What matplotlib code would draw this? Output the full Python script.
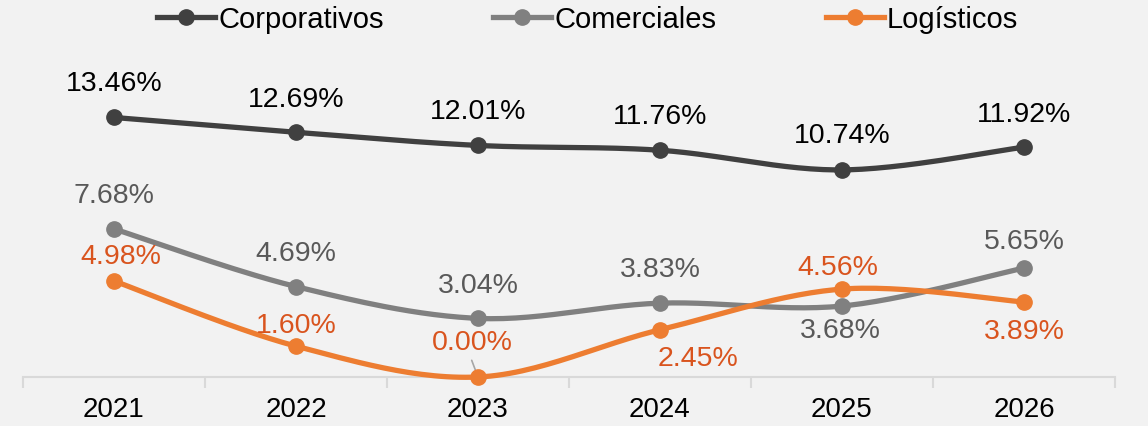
import numpy as np
import matplotlib.pyplot as plt

# datos
anios = ['2021', '2022', '2023', '2024', '2025', '2026']
corporativos = [13.46, 12.69, 12.01, 11.76, 10.74, 11.92]
comerciales = [7.68, 4.69, 3.04, 3.83, 3.68, 5.65]
logisticos = [4.98, 1.60, 0.00, 2.45, 4.56, 3.89]

# desplazamiento de las etiquetas (px): (dx, dy)
pos_corp = [(0, 34), (0, 33), (0, 34), (0, 34), (0, 35), (0, 33)]
pos_come = [(0, 34), (0, 34), (0, 33), (0, 34), (-2, -24), (0, 27)]
pos_logi = [(7, 25), (0, 21), (-6, 35), (38, -28), (-4, 22), (0, -29)]

plt.rcParams['font.family'] = ['Liberation Sans', 'DejaVu Sans']


def suavizar(x, y, n=30):
    # curva tipo Excel (Catmull-Rom con Bezier)
    p = np.column_stack([x, y])
    p = np.vstack([p[0], p, p[-1]])
    xs, ys = [], []
    for i in range(1, len(p) - 2):
        p0, p1, p2, p3 = p[i - 1], p[i], p[i + 1], p[i + 2]
        c1 = p1 + (p2 - p0) / 6
        c2 = p2 - (p3 - p1) / 6
        t = np.linspace(0, 1, n)[:, None]
        b = (1 - t) ** 3 * p1 + 3 * (1 - t) ** 2 * t * c1 + 3 * (1 - t) * t ** 2 * c2 + t ** 3 * p2
        xs.extend(b[:, 0])
        ys.extend(b[:, 1])
    return xs, ys


fig = plt.figure(figsize=(11.48, 4.27), dpi=100, facecolor='#f2f2f2')
ax = fig.add_axes([23 / 1148, 49 / 427, 1092 / 1148, 338 / 427])
ax.set_facecolor('#f2f2f2')

x = np.arange(len(anios))
series = [
    ('Corporativos', corporativos, '#404040', '#000000', pos_corp),
    ('Comerciales', comerciales, '#808080', '#595959', pos_come),
    ('Logísticos', logisticos, '#ED7D31', '#D9541E', pos_logi),
]
for nombre, vals, color, ctxt, pos in series:
    xs, ys = suavizar(x, vals)
    ax.plot(xs, ys, color=color, lw=3.8, clip_on=False, zorder=3, solid_capstyle='round')
    ax.plot(x, vals, 'o', color=color, ms=11, clip_on=False, zorder=4)
    ax.plot([], [], '-o', color=color, lw=3.8, ms=11, label=nombre)
    for xi, v, (dx, dy) in zip(x, vals, pos):
        ax.annotate(f'{v:.2f}%', (xi, v), xytext=(dx * 0.72, dy * 0.72), textcoords='offset points',
                    ha='center', va='center', fontsize=20.5, color=ctxt, zorder=5)

# linea guia de 0.00%
ax.annotate('', (2, 0.0), xytext=(-0.04 + 2, 1.0), arrowprops=dict(arrowstyle='-', color='#a6a6a6', lw=1.2))

ax.set_xlim(-0.5, 5.5)
ax.set_ylim(0, 17.53)
ax.set_yticks([])
for s in ['top', 'right', 'left']:
    ax.spines[s].set_visible(False)
ax.spines['bottom'].set_color('#d9d9d9')
ax.spines['bottom'].set_linewidth(1.5)
ax.set_xticks(x)
ax.set_xticklabels(anios, fontsize=20)
ax.set_xticks(np.arange(-0.5, 6, 1), minor=True)
ax.tick_params(axis='x', which='major', length=0, pad=14)
ax.tick_params(axis='x', which='minor', length=8, color='#d9d9d9', width=1.5)

ax.legend(loc='center', bbox_to_anchor=(0.517, 1.06), ncol=3, frameon=False, fontsize=21,
          handlelength=2.0, handletextpad=0.1, columnspacing=3.75, borderaxespad=0)

fig.savefig('out.png', dpi=100, facecolor='#f2f2f2')
